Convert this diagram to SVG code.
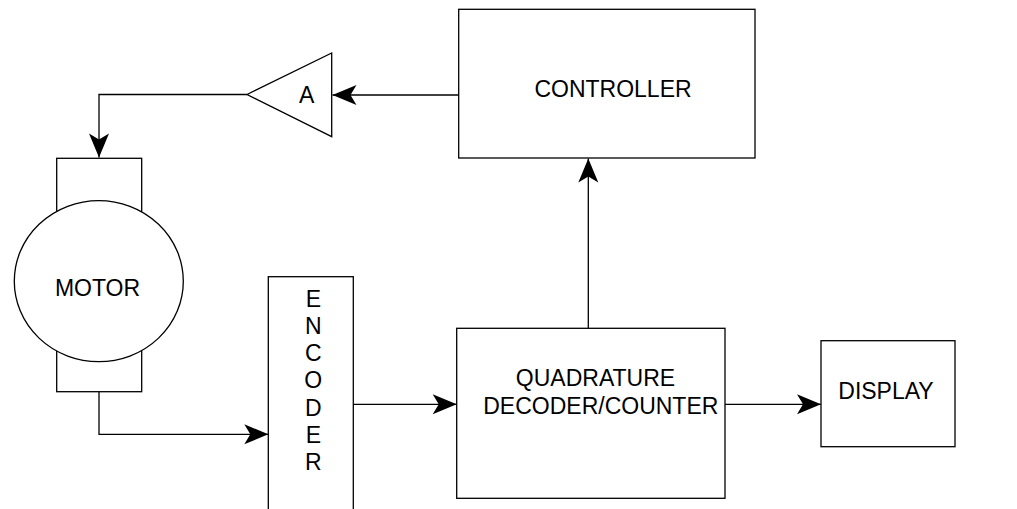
<svg xmlns="http://www.w3.org/2000/svg" width="1017" height="509" viewBox="0 0 1017 509">
  <style>
    .box { fill: #fff; stroke: #000; stroke-width: 1.3; }
    .wire { fill: none; stroke: #000; stroke-width: 1.3; }
    .lbl { font-family: "Liberation Sans", Arial, sans-serif; font-size: 23px; fill: #000; text-anchor: middle; }
  </style>
  <defs>
    <marker id="arrow" markerUnits="userSpaceOnUse" markerWidth="26" markerHeight="22" refX="24" refY="10" orient="auto" overflow="visible">
      <path d="M0,0 L24,10 L0,20 L6,10 Z" fill="#000"/>
    </marker>
  </defs>

  <!-- connectors -->
  <g id="connectors">
    <path class="wire" d="M458.7,95 L332.5,95" marker-end="url(#arrow)"/>
    <path class="wire" d="M247,94.5 L99,94.5 L99,157.5" marker-end="url(#arrow)"/>
    <path class="wire" d="M99,391.7 L99,434.3 L268.3,434.3" marker-end="url(#arrow)"/>
    <path class="wire" d="M353.3,404.3 L456.7,404.3" marker-end="url(#arrow)"/>
    <path class="wire" d="M725,404.3 L821,404.3" marker-end="url(#arrow)"/>
    <path class="wire" d="M588.3,328.3 L588.3,158.5" marker-end="url(#arrow)"/>
  </g>

  <!-- controller block -->
  <g id="controller">
    <rect class="box" x="458.7" y="9.3" width="296.3" height="148.7"/>
    <text class="lbl" x="613" y="96.5" font-size="24">CONTROLLER</text>
  </g>

  <!-- amplifier -->
  <g id="amplifier">
    <polygon class="box" points="247,94.5 331.7,53 331.7,136.7"/>
    <text class="lbl" x="306.7" y="102.7" font-size="22">A</text>
  </g>

  <!-- motor: housing with round body -->
  <g id="motor">
    <rect class="box" x="56.7" y="158.3" width="85" height="233.4"/>
    <ellipse class="box" cx="98.8" cy="281.2" rx="84.5" ry="80.5"/>
    <text class="lbl" x="97.5" y="296" font-size="24">MOTOR</text>
  </g>

  <!-- encoder (runs off the bottom edge) -->
  <g id="encoder">
    <rect class="box" x="268.3" y="276.7" width="85" height="260"/>
    <text class="lbl" x="313.3" y="306.7">E</text>
    <text class="lbl" x="313.3" y="333.9">N</text>
    <text class="lbl" x="313.3" y="361.1">C</text>
    <text class="lbl" x="313.3" y="388.3">O</text>
    <text class="lbl" x="313.3" y="415.5">D</text>
    <text class="lbl" x="313.3" y="442.7">E</text>
    <text class="lbl" x="313.3" y="469.9">R</text>
  </g>

  <!-- quadrature decoder / counter -->
  <g id="decoder">
    <rect class="box" x="456.7" y="328.3" width="268.3" height="170"/>
    <text class="lbl" x="595.5" y="386" font-size="22">QUADRATURE</text>
    <text class="lbl" x="600.8" y="414.3" font-size="22">DECODER/COUNTER</text>
  </g>

  <!-- display -->
  <g id="display">
    <rect class="box" x="821" y="340.7" width="134" height="106"/>
    <text class="lbl" x="886" y="399.3" font-size="22">DISPLAY</text>
  </g>
</svg>
